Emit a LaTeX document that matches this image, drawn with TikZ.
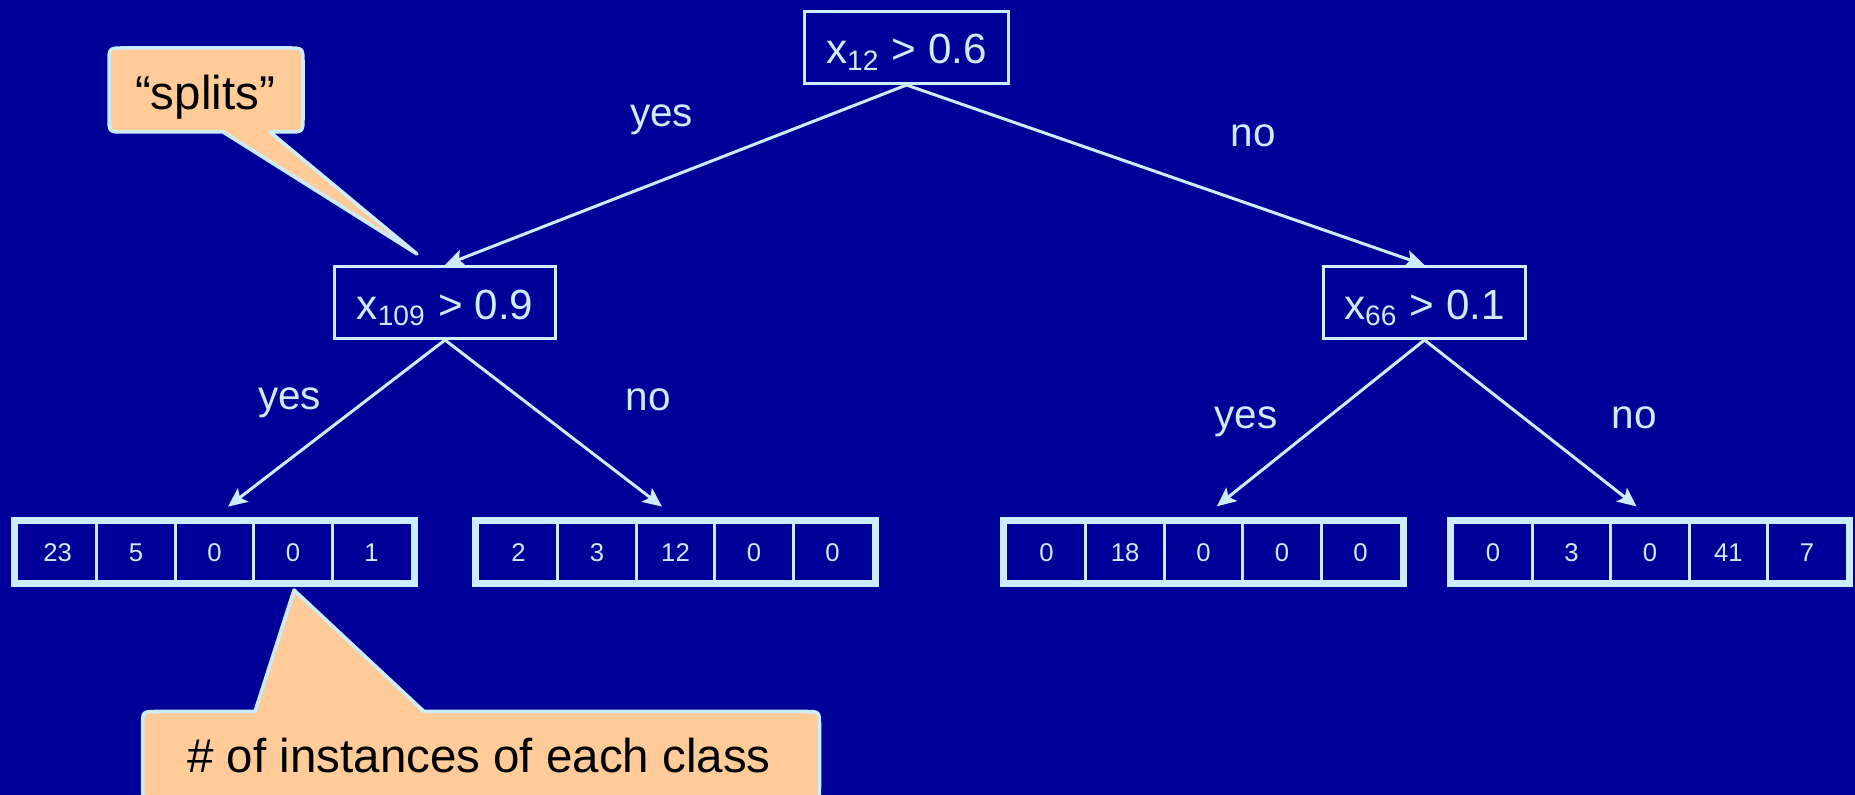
\documentclass[tikz,border=0pt]{standalone}
\usepackage{fontspec}
\setmainfont{Liberation Sans}
\usetikzlibrary{arrows.meta}
\definecolor{slidebg}{RGB}{0,0,153}
\definecolor{chalk}{RGB}{204,236,255}
\definecolor{peach}{RGB}{255,204,153}

\begin{document}
\begin{tikzpicture}[x=0.01cm,y=-0.01cm,
  test/.style={draw=chalk, line width=0.03cm, inner sep=0pt, minimum height=0.72cm,
    text=chalk, font=\fontsize{12}{14}\selectfont, text height=0.33cm, text depth=0cm},
  leaf/.style={draw=chalk, line width=0.07cm, inner sep=0pt,
    minimum width=3.99cm, minimum height=0.63cm},
  count/.style={text=chalk, font=\fontsize{7.3}{9}\selectfont, inner sep=0pt,
    text height=0.19cm, text depth=0cm},
  divider/.style={draw=chalk, line width=0.03cm},
  branch/.style={draw=chalk, line width=0.03cm,
    -{Stealth[length=0.19cm,width=0.17cm,inset=0.04cm]}},
  answer/.style={text=chalk, font=\fontsize{11.5}{14}\selectfont, anchor=base, inner sep=0pt},
  balloon/.style={fill=peach, draw=chalk, line width=0.035cm, line join=round},
  note/.style={text=black, font=\fontsize{13.5}{16}\selectfont, anchor=base, inner sep=0pt}
]
% slide background
\fill[slidebg] (0,0) rectangle (1855,795);
\useasboundingbox (0,0) rectangle (1855,795);

% split tests
\node[test, minimum width=2.04cm] (root)  at (906.5,47.5)   {x\textsubscript{12} > 0.6};
\node[test, minimum width=2.21cm] (left)  at (445,302.5)    {x\textsubscript{109} > 0.9};
\node[test, minimum width=2.02cm] (right) at (1424.5,302.5) {x\textsubscript{66} > 0.1};

% leaves with class counts
\node[leaf] (leafA) at (214.5,552) {};
\node[leaf] (leafB) at (675.5,552) {};
\node[leaf] (leafC) at (1203.5,552) {};
\node[leaf] (leafD) at (1650,552) {};

\foreach \name/\a/\b/\c/\d/\e in {leafA/23/5/0/0/1, leafB/2/3/12/0/0,
                                 leafC/0/18/0/0/0, leafD/0/3/0/41/7} {
  \foreach \v [count=\i from 0] in {\a,\b,\c,\d,\e}
    \node[count] (\name-\i) at ([xshift={(-1.568+0.784*\i)*1cm}]\name.center) {\v};
  \foreach \k in {-1.176,-0.392,0.392,1.176}
    \draw[divider] ([xshift=\k cm]\name.north) -- ([xshift=\k cm]\name.south);
}

% branches
\draw[branch] (root.south) -- (left.north);
\draw[branch] (root.south) -- (right.north);
\draw[branch, shorten >=0.17cm] (left.south) -- (leafA.north);
\draw[branch, shorten >=0.17cm] (left.south) -- (leafB.north);
\draw[branch, shorten >=0.17cm] (right.south) -- (leafC.north);
\draw[branch, shorten >=0.17cm] (right.south) -- (leafD.north);

% branch labels
\node[answer] (yes1) at (661.5,127) {yes};
\node[answer] (no1)  at (1253,147)  {no};
\node[answer] (yes2) at (289.5,410) {yes};
\node[answer] (no2)  at (648,411)   {no};
\node[answer] (yes3) at (1246,429)  {yes};
\node[answer] (no3)  at (1634,429)  {no};

% callout balloons
\coordinate (splitsTip) at (417,254);
\coordinate (instTip) at (294,590);

\path[balloon] (223,132) -- (splitsTip) -- (270,132) -- (288,132)
  .. controls (303,132) .. (303,117) -- (303,63)
  .. controls (303,48) .. (288,48) -- (124,48)
  .. controls (109,48) .. (109,63) -- (109,117)
  .. controls (109,132) .. (124,132) -- cycle;
\node[note] (splitsText) at (205,110) {“splits”};

\path[balloon] (255,711.5) -- (instTip) -- (424,711.5) -- (805,711.5)
  .. controls (819.5,711.5) .. (819.5,726) -- (819.5,786)
  .. controls (819.5,800) .. (805,800) -- (157,800)
  .. controls (142.5,800) .. (142.5,786) -- (142.5,726)
  .. controls (142.5,711.5) .. (157,711.5) -- cycle;
\node[note] (instText) at (479,772) {\# of instances of each class};
\end{tikzpicture}
\end{document}
